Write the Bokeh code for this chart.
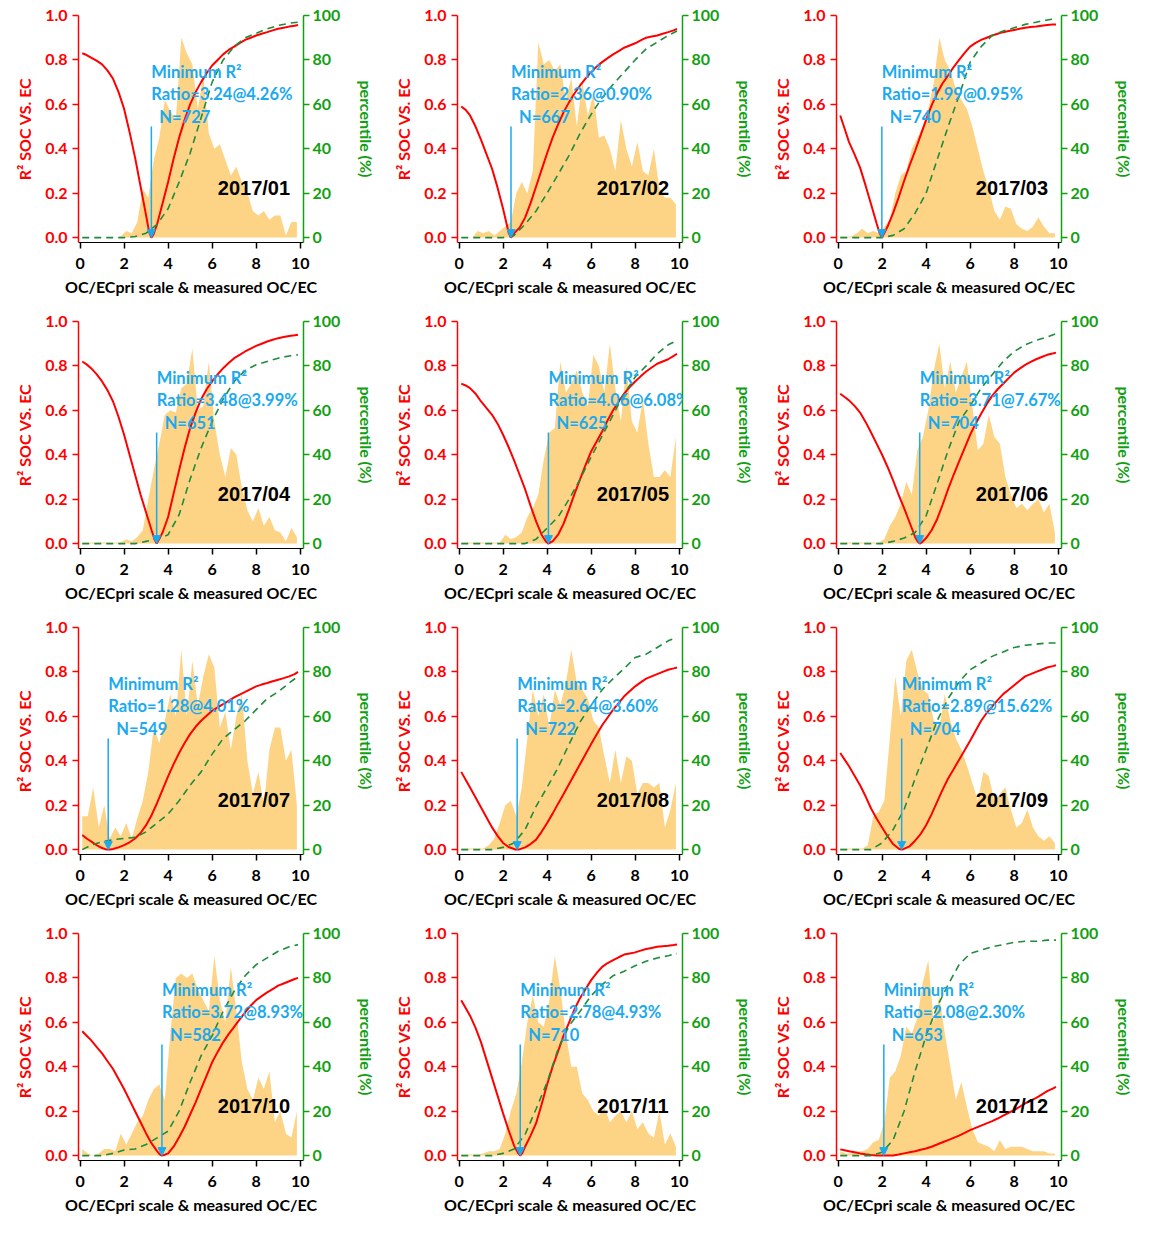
from bokeh.plotting import figure
from bokeh.layouts import gridplot
from bokeh.models import (Range1d, LinearAxis, Arrow, NormalHead, FixedTicker,
                          NumeralTickFormatter, Label)
from bokeh.core.properties import value
from bokeh.embed import file_html
from bokeh.resources import INLINE

# ---------------- data ----------------
months = ["2017/01", "2017/02", "2017/03", "2017/04", "2017/05", "2017/06",
          "2017/07", "2017/08", "2017/09", "2017/10", "2017/11", "2017/12"]
ratio = [3.24, 2.36, 1.99, 3.48, 4.06, 3.71, 1.28, 2.64, 2.89, 3.72, 2.78, 2.08]
pct_at_min = ["4.26", "0.90", "0.95", "3.99", "6.08", "7.67", "4.01", "3.60", "15.62", "8.93", "4.93", "2.30"]
n_obs = [727, 667, 740, 651, 625, 704, 549, 722, 704, 582, 710, 653]
red_min = [0.0, 0.0, 0.0, 0.0, 0.0, 0.0, 0.0, 0.0, 0.0, 0.0, 0.0, 0.0]
# R2 read 0.1 left / right of each minimum
red_left_near = [0.025, 0.02, 0.02, 0.02, 0.008, 0.01, 0.001, 0.001, 0.003, 0.006, 0.012, 0.0]
red_right_near = [0.015, 0.012, 0.018, 0.018, 0.006, 0.006, 0.001, 0.001, 0.003, 0.003, 0.012, 0.0]

# measured OC/EC histogram bins (x) and heights (left-axis units)
hist_x = [0.1, 0.35, 0.6, 0.85, 1.1, 1.35, 1.6, 1.85, 2.1, 2.35, 2.6, 2.85, 3.1, 3.35,
          3.6, 3.85, 4.1, 4.35, 4.6, 4.85, 5.1, 5.35, 5.6, 5.85, 6.1, 6.35, 6.6, 6.85,
          7.1, 7.35, 7.6, 7.85, 8.1, 8.35, 8.6, 8.85, 9.1, 9.35, 9.6, 9.85]
hist_01 = [0, 0, 0, 0, 0, 0, 0, 0.005, 0.03, 0.02, 0.07, 0.22, 0.18, 0.35, 0.45, 0.62,
           0.57, 0.53, 0.90, 0.83, 0.78, 0.58, 0.73, 0.47, 0.40, 0.42, 0.35, 0.28,
           0.32, 0.25, 0.20, 0.12, 0.10, 0.12, 0.08, 0.10, 0.10, 0.01, 0.07, 0.07]
hist_02 = [0, 0, 0, 0.03, 0.02, 0.03, 0.01, 0.03, 0.05, 0.07, 0.20, 0.25, 0.20, 0.30,
           0.88, 0.78, 0.80, 0.75, 0.78, 0.62, 0.72, 0.50, 0.70, 0.55, 0.65, 0.45,
           0.46, 0.40, 0.30, 0.53, 0.40, 0.32, 0.43, 0.30, 0.28, 0.40, 0.22, 0.18, 0.18, 0.15]
hist_03 = [0.005, 0.005, 0.005, 0.02, 0.04, 0.02, 0.03, 0.02, 0.05, 0.08, 0.20, 0.28,
           0.30, 0.40, 0.45, 0.50, 0.58, 0.70, 0.90, 0.80, 0.75, 0.67, 0.62, 0.58,
           0.50, 0.40, 0.30, 0.22, 0.12, 0.08, 0.14, 0.13, 0.06, 0.04, 0.03, 0.05,
           0.09, 0.05, 0.02, 0.02]
hist_04 = [0.005, 0.005, 0.005, 0.005, 0.005, 0.005, 0.005, 0.005, 0.02, 0.01, 0.03,
           0.06, 0.20, 0.33, 0.45, 0.58, 0.60, 0.59, 0.70, 0.72, 0.88, 0.60, 0.62,
           0.82, 0.55, 0.40, 0.30, 0.43, 0.40, 0.25, 0.15, 0.10, 0.16, 0.08, 0.12,
           0.06, 0.05, 0.01, 0.07, 0.03]
hist_05 = [0.005, 0.005, 0.005, 0.005, 0.005, 0.005, 0.005, 0.005, 0.04, 0.02, 0.03,
           0.05, 0.12, 0.16, 0.22, 0.38, 0.50, 0.52, 0.82, 0.68, 0.72, 0.78, 0.68,
           0.62, 0.85, 0.80, 0.68, 0.90, 0.70, 0.55, 0.80, 0.55, 0.50, 0.65, 0.45,
           0.30, 0.30, 0.33, 0.30, 0.48]
hist_06 = [0.005, 0.005, 0.005, 0.005, 0.005, 0.005, 0.005, 0.005, 0.02, 0.08, 0.12,
           0.18, 0.28, 0.22, 0.42, 0.48, 0.60, 0.78, 0.90, 0.70, 0.82, 0.68, 0.75,
           0.82, 0.62, 0.42, 0.45, 0.58, 0.48, 0.45, 0.30, 0.22, 0.16, 0.18, 0.15,
           0.18, 0.20, 0.14, 0.18, 0.05]
hist_07 = [0.15, 0.15, 0.28, 0.10, 0.20, 0.05, 0.10, 0.06, 0.12, 0.05, 0.14, 0.22,
           0.35, 0.55, 0.48, 0.58, 0.70, 0.60, 0.90, 0.60, 0.85, 0.65, 0.78, 0.88,
           0.82, 0.55, 0.62, 0.45, 0.60, 0.70, 0.40, 0.25, 0.35, 0.20, 0.45, 0.55,
           0.55, 0.40, 0.45, 0.20]
hist_08 = [0.005, 0.005, 0.005, 0.005, 0.005, 0.02, 0.05, 0.12, 0.20, 0.22, 0.15,
           0.28, 0.50, 0.72, 0.60, 0.70, 0.55, 0.72, 0.65, 0.75, 0.90, 0.75, 0.72,
           0.68, 0.58, 0.55, 0.42, 0.30, 0.45, 0.30, 0.42, 0.40, 0.25, 0.30, 0.30,
           0.28, 0.30, 0.10, 0.18, 0.30]
hist_09 = [0.005, 0.005, 0.005, 0.005, 0.005, 0.02, 0.15, 0.17, 0.22, 0.50, 0.78,
           0.60, 0.85, 0.90, 0.80, 0.72, 0.70, 0.58, 0.55, 0.70, 0.58, 0.50, 0.45,
           0.38, 0.30, 0.22, 0.35, 0.33, 0.22, 0.25, 0.28, 0.18, 0.10, 0.12, 0.18,
           0.10, 0.06, 0.04, 0.06, 0.03]
hist_10 = [0.03, 0.01, 0.0, 0.01, 0.03, 0.03, 0.02, 0.10, 0.05, 0.10, 0.15, 0.18,
           0.25, 0.30, 0.32, 0.25, 0.55, 0.80, 0.82, 0.80, 0.82, 0.75, 0.70, 0.65,
           0.90, 0.70, 0.60, 0.85, 0.65, 0.42, 0.30, 0.25, 0.35, 0.30, 0.38, 0.15,
           0.20, 0.10, 0.08, 0.20]
hist_11 = [0.005, 0.005, 0.005, 0.005, 0.01, 0.02, 0.02, 0.03, 0.10, 0.20, 0.28,
           0.42, 0.60, 0.72, 0.60, 0.58, 0.70, 0.90, 0.75, 0.55, 0.40, 0.40, 0.28,
           0.25, 0.20, 0.18, 0.22, 0.15, 0.18, 0.20, 0.15, 0.20, 0.12, 0.15, 0.10,
           0.08, 0.20, 0.05, 0.10, 0.04]
hist_12 = [0.02, 0.01, 0.01, 0.02, 0.02, 0.03, 0.06, 0.07, 0.15, 0.35, 0.38, 0.45,
           0.58, 0.55, 0.62, 0.78, 0.88, 0.60, 0.72, 0.55, 0.40, 0.25, 0.33, 0.22,
           0.12, 0.06, 0.05, 0.04, 0.02, 0.07, 0.03, 0.04, 0.04, 0.04, 0.03, 0.02,
           0.02, 0.02, 0.01, 0.01]

# OC/ECpri scale positions for the R2 curves
red_x = [0.1, 0.3, 0.5, 0.75, 1.0, 1.25, 1.5, 1.75, 2.0, 2.25,
         2.5, 2.75, 3.0, 3.25, 3.5, 3.75, 4.0, 4.25, 4.5, 4.75,
         5.0, 5.25, 5.5, 5.75, 6.0, 6.25, 6.5, 6.75, 7.0, 7.25,
         7.5, 7.75, 8.0, 8.25, 8.5, 8.75, 9.0, 9.25, 9.5, 9.75, 9.9]
red_01 = [0.83, 0.822, 0.81, 0.797, 0.78, 0.752, 0.715, 0.655, 0.58, 0.475,
          0.36, 0.23, 0.10, 0.0, 0.06, 0.155, 0.25, 0.355, 0.45, 0.53,
          0.60, 0.655, 0.70, 0.74, 0.775, 0.80, 0.825, 0.845, 0.86, 0.876,
          0.89, 0.90, 0.91, 0.918, 0.925, 0.933, 0.94, 0.945, 0.95, 0.954, 0.957]
red_02 = [0.59, 0.575, 0.55, 0.50, 0.44, 0.375, 0.31, 0.225, 0.13, 0.035,
          0.02, 0.045, 0.09, 0.155, 0.23, 0.305, 0.38, 0.45, 0.51, 0.565,
          0.61, 0.65, 0.685, 0.717, 0.745, 0.77, 0.79, 0.808, 0.825, 0.84,
          0.855, 0.865, 0.875, 0.888, 0.90, 0.905, 0.91, 0.918, 0.925, 0.933, 0.94]
red_03 = [0.55, 0.49, 0.43, 0.375, 0.315, 0.235, 0.15, 0.065, 0.0, 0.05,
          0.11, 0.18, 0.255, 0.325, 0.39, 0.46, 0.53, 0.595, 0.65, 0.695,
          0.73, 0.768, 0.80, 0.832, 0.86, 0.877, 0.89, 0.90, 0.91, 0.918,
          0.925, 0.93, 0.935, 0.94, 0.945, 0.948, 0.95, 0.954, 0.957, 0.959, 0.96]
red_04 = [0.82, 0.807, 0.79, 0.763, 0.73, 0.69, 0.64, 0.57, 0.49, 0.40,
          0.31, 0.22, 0.14, 0.06, 0.0, 0.05, 0.12, 0.225, 0.33, 0.43,
          0.52, 0.59, 0.65, 0.695, 0.73, 0.762, 0.79, 0.813, 0.835, 0.85,
          0.865, 0.878, 0.89, 0.90, 0.91, 0.918, 0.925, 0.93, 0.935, 0.938, 0.94]
red_05 = [0.72, 0.712, 0.70, 0.675, 0.64, 0.61, 0.58, 0.54, 0.49, 0.435,
          0.375, 0.31, 0.245, 0.17, 0.10, 0.04, 0.002, 0.01, 0.04, 0.09,
          0.155, 0.225, 0.29, 0.355, 0.415, 0.46, 0.505, 0.555, 0.60, 0.64,
          0.675, 0.705, 0.73, 0.753, 0.775, 0.793, 0.81, 0.82, 0.83, 0.845, 0.855]
red_06 = [0.675, 0.66, 0.645, 0.62, 0.59, 0.548, 0.50, 0.45, 0.40, 0.345,
          0.285, 0.22, 0.16, 0.095, 0.03, 0.0, 0.025, 0.06, 0.11, 0.175,
          0.245, 0.31, 0.37, 0.43, 0.49, 0.54, 0.585, 0.628, 0.665, 0.695,
          0.72, 0.745, 0.77, 0.788, 0.805, 0.818, 0.83, 0.84, 0.85, 0.856, 0.86]
red_07 = [0.066, 0.05, 0.037, 0.02, 0.007, 0.0, 0.003, 0.01, 0.02, 0.033,
          0.05, 0.075, 0.11, 0.155, 0.21, 0.27, 0.33, 0.385, 0.435, 0.48,
          0.52, 0.553, 0.58, 0.603, 0.625, 0.64, 0.655, 0.67, 0.685, 0.698,
          0.71, 0.723, 0.735, 0.743, 0.75, 0.758, 0.765, 0.772, 0.78, 0.79, 0.80]
red_08 = [0.35, 0.315, 0.28, 0.235, 0.19, 0.145, 0.10, 0.062, 0.03, 0.012,
          0.003, 0.002, 0.01, 0.025, 0.045, 0.08, 0.12, 0.162, 0.207, 0.25,
          0.295, 0.34, 0.385, 0.43, 0.475, 0.518, 0.56, 0.595, 0.63, 0.66,
          0.69, 0.713, 0.735, 0.753, 0.77, 0.78, 0.79, 0.80, 0.81, 0.816, 0.82]
red_09 = [0.435, 0.405, 0.375, 0.333, 0.29, 0.24, 0.185, 0.14, 0.10, 0.06,
          0.025, 0.005, 0.003, 0.015, 0.04, 0.07, 0.11, 0.16, 0.215, 0.27,
          0.32, 0.362, 0.405, 0.447, 0.49, 0.535, 0.58, 0.615, 0.645, 0.673,
          0.70, 0.72, 0.74, 0.76, 0.78, 0.79, 0.80, 0.81, 0.82, 0.826, 0.83]
red_10 = [0.56, 0.54, 0.52, 0.49, 0.46, 0.425, 0.39, 0.345, 0.30, 0.25,
          0.20, 0.15, 0.10, 0.055, 0.02, 0.0, 0.01, 0.04, 0.083, 0.13,
          0.185, 0.24, 0.30, 0.36, 0.42, 0.467, 0.51, 0.547, 0.58, 0.613,
          0.645, 0.675, 0.70, 0.718, 0.735, 0.75, 0.765, 0.775, 0.785, 0.795, 0.80]
red_11 = [0.70, 0.665, 0.63, 0.575, 0.51, 0.43, 0.35, 0.27, 0.19, 0.115,
          0.045, 0.0, 0.04, 0.09, 0.146, 0.23, 0.32, 0.40, 0.47, 0.54,
          0.60, 0.66, 0.71, 0.75, 0.79, 0.822, 0.85, 0.867, 0.88, 0.893,
          0.905, 0.91, 0.915, 0.923, 0.93, 0.935, 0.94, 0.943, 0.945, 0.948, 0.95]
red_12 = [0.028, 0.024, 0.02, 0.015, 0.01, 0.006, 0.003, 0.001, 0.0, 0.0005,
          0.001, 0.005, 0.01, 0.015, 0.02, 0.026, 0.032, 0.04, 0.05, 0.06,
          0.07, 0.08, 0.09, 0.102, 0.115, 0.125, 0.135, 0.145, 0.155, 0.167,
          0.18, 0.193, 0.205, 0.22, 0.235, 0.248, 0.26, 0.275, 0.29, 0.302, 0.31]

# OC/ECpri scale positions for the percentile curves
pct_x = [0.1, 0.5, 1.0, 1.5, 2.0, 2.5, 3.0, 3.5, 4.0, 4.5, 5.0, 5.5, 6.0, 6.5,
         7.0, 7.5, 8.0, 8.5, 9.0, 9.5, 9.9]
pct_01 = [0, 0, 0, 0, 0, 0.5, 2, 6, 13, 25, 38, 54, 70, 80, 86, 90, 92, 94, 95.5, 96.5, 97]
pct_02 = [0, 0, 0, 0, 0, 1, 6, 12, 20, 28.5, 37, 47, 55.5, 63, 69, 74.5, 80, 85, 88, 91, 93]
pct_03 = [0, 0, 0, 0, 0, 1, 4, 11, 20, 35, 50, 64, 79, 86, 91, 93, 94.5, 96, 97, 98, 98.5]
pct_04 = [0, 0, 0, 0, 0, 0, 1, 2, 4, 13, 29, 43, 55, 65, 73, 78, 80.5, 82, 83.5, 84.5, 85]
pct_05 = [0, 0, 0, 0, 0, 0, 0, 2, 7, 12, 20, 29, 39, 48.5, 58, 67.5, 75, 80, 85.5, 89.5, 91.5]
pct_06 = [0, 0, 0, 0, 0, 1, 2.5, 5, 12.5, 27, 42, 55, 62, 70, 76, 82, 86.5, 89.5, 91.5, 93, 94.5]
pct_07 = [0, 2, 3.5, 4.5, 5, 5.5, 8, 12, 16, 22, 29, 35, 43, 50, 54, 58, 63, 68, 71, 75, 78]
pct_08 = [0, 0, 0, 0, 1, 3, 9, 19.5, 28, 37, 47.5, 57.5, 65, 72, 77, 81.5, 86.5, 88, 91, 94, 95.5]
pct_09 = [0, 0, 0, 0, 3, 9, 18, 32, 45, 58, 68, 75.5, 81, 84, 87, 89, 91, 92, 92.5, 93, 93]
pct_10 = [0, 0, 0, 1, 2.5, 3, 5, 8, 11, 20, 33, 45, 54, 65, 74, 81, 86, 89, 92, 94, 95]
pct_11 = [0, 0, 0, 0, 1, 3, 9.5, 21, 33, 48, 58.5, 65, 72, 77, 81, 83, 85.5, 87.5, 89, 90, 91]
pct_12 = [0, 0, 0, 0, 1.5, 7, 20, 38, 54, 67, 77, 86, 91, 92.5, 94, 95, 96, 96.5, 96.5, 97, 97]

hists = [hist_01, hist_02, hist_03, hist_04, hist_05, hist_06,
         hist_07, hist_08, hist_09, hist_10, hist_11, hist_12]
reds = [red_01, red_02, red_03, red_04, red_05, red_06,
        red_07, red_08, red_09, red_10, red_11, red_12]
pcts = [pct_01, pct_02, pct_03, pct_04, pct_05, pct_06,
        pct_07, pct_08, pct_09, pct_10, pct_11, pct_12]

# ---------------- style ----------------
RED = "#FF0000"
GREEN = "#11A011"
DASH = "#1E8C3C"
BLUE = "#1BA9F0"
FILL = "#FDD486"
FONT = "Lato"
TICK_SIZE = "16px"
LABEL_SIZE = "16px"


def style_axis(ax, color, label_standoff, tick_standoff):
    ax.axis_line_color = color
    ax.axis_line_width = 1.5
    ax.major_tick_line_color = color
    ax.major_tick_line_width = 1.5
    ax.minor_tick_line_color = None
    ax.major_tick_out = 6
    ax.major_tick_in = 0
    ax.major_label_text_color = color
    ax.major_label_text_font = FONT
    ax.major_label_text_font_style = "bold"
    ax.major_label_text_font_size = TICK_SIZE
    ax.major_label_standoff = tick_standoff
    ax.axis_label_text_color = color
    ax.axis_label_text_font = FONT
    ax.axis_label_text_font_style = "bold"
    ax.axis_label_text_font_size = LABEL_SIZE
    ax.axis_label_standoff = label_standoff


def blue_label(x, y, text, x_offset=0):
    return Label(x=x, y=y, text=text, x_offset=x_offset, text_font=FONT,
                 text_font_style="bold", text_font_size="16.5px", text_color=BLUE,
                 text_baseline="middle", text_align="left")


figs = []
for i in range(12):
    p = figure(width=379, height=306, output_backend="svg", toolbar_location=None,
               x_range=Range1d(-0.07, 10.15), y_range=Range1d(-0.022, 1.0),
               min_border_left=78, min_border_right=75, min_border_top=15,
               min_border_bottom=64, background_fill_color="white",
               border_fill_color="white")
    p.outline_line_color = None
    p.grid.visible = False
    p.extra_y_ranges = {"pct": Range1d(-2.2, 100)}

    # histogram of measured OC/EC
    p.varea(x=hist_x, y1=[0] * len(hist_x), y2=hists[i], fill_color=FILL, fill_alpha=1.0)

    # R2 curve: read points plus the minimum and its close neighbours
    r = ratio[i]
    pts = [(x, y) for x, y in zip(red_x, reds[i]) if abs(x - r) >= 0.12]
    pts += [(r - 0.1, red_left_near[i]), (r, red_min[i]), (r + 0.1, red_right_near[i])]
    pts.sort()
    p.line([a for a, b in pts], [b for a, b in pts], line_color=RED, line_width=2)

    # percentile curve
    p.line(pct_x, pcts[i], y_range_name="pct", line_color=DASH, line_width=1.6,
           line_dash="7 5")

    # arrow marking the minimum
    p.add_layout(Arrow(end=NormalHead(size=8, fill_color=BLUE, line_color=BLUE, line_width=1),
                       x_start=r, y_start=0.5, x_end=r, y_end=red_min[i],
                       line_color=BLUE, line_width=1.5))

    # annotation texts
    p.add_layout(blue_label(r, 0.745, "Minimum R\u00b2"))
    p.add_layout(blue_label(r, 0.645, "Ratio=%.2f@%s%%" % (r, pct_at_min[i])))
    p.add_layout(blue_label(r, 0.545, "N=%d" % n_obs[i], x_offset=8))
    p.text(x=[7.9], y=[0.225], text=[months[i]], text_font=value("Liberation Sans"),
           text_font_style="bold", text_font_size="20px", text_color="black",
           text_baseline="middle", text_align="center")

    # left axis
    ya = p.yaxis[0]
    ya.ticker = FixedTicker(ticks=[0, 0.2, 0.4, 0.6, 0.8, 1.0])
    ya.formatter = NumeralTickFormatter(format="0.0")
    ya.axis_label = "R\u00b2 SOC VS. EC"
    style_axis(ya, RED, 8, 5)

    # bottom axis
    xa = p.xaxis[0]
    xa.ticker = FixedTicker(ticks=[0, 2, 4, 6, 8, 10])
    xa.axis_label = "OC/ECpri scale & measured OC/EC"
    style_axis(xa, "black", 5, 9)
    xa.axis_line_width = 1

    # right axis
    ra = LinearAxis(y_range_name="pct", ticker=FixedTicker(ticks=[0, 20, 40, 60, 80, 100]),
                    axis_label="percentile (%)")
    style_axis(ra, GREEN, 14, 3)
    p.add_layout(ra, "right")

    figs.append(p)

grid = gridplot(figs, ncols=3, toolbar_location=None)
open("out.html", "w").write(file_html(grid, INLINE))
